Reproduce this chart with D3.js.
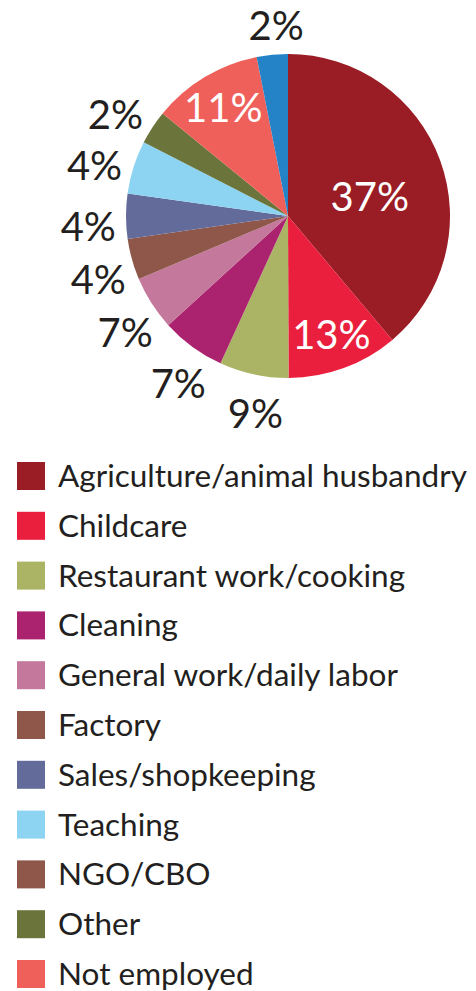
<!DOCTYPE html>
<html>
<head>
<meta charset="utf-8">
<script src="https://cdn.jsdelivr.net/npm/d3@7"></script>
<style>
  body { margin: 0; background: #fff; }
  svg { display: block; }
  text { font-family: Lato, "Open Sans", sans-serif; }
</style>
</head>
<body>
<svg id="svg1" width="476" height="991"></svg>
<script>
// slices in drawing order, clockwise from 12 o'clock
var sliceNames = ['Agriculture/animal husbandry', 'Childcare', 'Restaurant work/cooking', 'Cleaning',
  'General work/daily labor', 'Factory', 'Sales/shopkeeping', 'Teaching', 'Other', 'Not employed', 'NGO/CBO'];
// slice sizes as drawn in the picture (share of the circle)
var sliceShares = [38.9, 11.1, 6.9, 6.4, 5.4, 4.1, 4.5, 5.3, 3.4, 11.0, 3.1];
// printed labels
var sliceLabels = ['37%', '13%', '9%', '7%', '7%', '4%', '4%', '4%', '2%', '11%', '2%'];
var sliceColors = ['#9a1c24', '#ea1f3d', '#abb464', '#ab236f', '#c4789b', '#8e574a', '#636b9a', '#8dd4f2', '#6b743a', '#ef605b', '#2383c6'];
var labelInside = [true, true, false, false, false, false, false, false, false, true, false];

var legendNames = ['Agriculture/animal husbandry', 'Childcare', 'Restaurant work/cooking', 'Cleaning',
  'General work/daily labor', 'Factory', 'Sales/shopkeeping', 'Teaching', 'NGO/CBO', 'Other', 'Not employed'];
var legendColors = ['#9a1c24', '#ea1f3d', '#abb464', '#ab236f', '#c4789b', '#8e574a', '#636b9a', '#8dd4f2', '#8e574a', '#6b743a', '#ef605b'];

var svg = d3.select('#svg1');
var cx = 288, cy = 216, radius = 162;

var slices = sliceNames.map(function(n, i) {
  return {name: n, share: sliceShares[i], label: sliceLabels[i], color: sliceColors[i], inside: labelInside[i]};
});

var pie = d3.pie().sort(null).value(function(d) { return d.share; });
var arc = d3.arc().innerRadius(0).outerRadius(radius);
var arcs = pie(slices);

var g = svg.append('g').attr('transform', 'translate(' + cx + ',' + cy + ')');

g.selectAll('.slice')
  .data(arcs)
  .enter().append('path')
  .attr('class', 'slice')
  .attr('d', arc)
  .attr('fill', function(d) { return d.data.color; });

// labels: big slice in the middle, other inside ones nearer the rim, small ones outside
function labelPos(d) {
  var a = (d.startAngle + d.endAngle) / 2;
  var r;
  if (d.data.inside) {
    r = d.data.share > 30 ? 84 : 126;
    if (d.data.share > 30) a += 0.12;
  } else if (Math.cos(a) > 0.9) {
    // label sitting above the pie
    r = 191;
    a += 0.035;
  } else {
    r = 200;
    a -= 0.05;
  }
  return [Math.sin(a) * r, -Math.cos(a) * r];
}

g.selectAll('.pct')
  .data(arcs)
  .enter().append('text')
  .attr('class', 'pct')
  .attr('x', function(d) { return labelPos(d)[0]; })
  .attr('y', function(d) { return labelPos(d)[1]; })
  .attr('dy', '0.36em')
  .attr('text-anchor', 'middle')
  .attr('font-size', 40)
  .attr('fill', function(d) { return d.data.inside ? '#fff' : '#231f20'; })
  .text(function(d) { return d.data.label; });

// legend
var legendY = d3.scalePoint().domain(legendNames.map(function(d, i) { return i; })).range([476, 974]);

var legend = svg.selectAll('.legend')
  .data(legendNames)
  .enter().append('g')
  .attr('class', 'legend')
  .attr('transform', function(d, i) { return 'translate(17,' + legendY(i) + ')'; });

legend.append('rect')
  .attr('x', 0)
  .attr('y', -14)
  .attr('width', 28)
  .attr('height', 28)
  .attr('fill', function(d, i) { return legendColors[i]; });

legend.append('text')
  .attr('x', 41)
  .attr('y', 11)
  .attr('font-size', 31.5)
  .attr('fill', '#231f20')
  .text(function(d) { return d; });
</script>
</body>
</html>
